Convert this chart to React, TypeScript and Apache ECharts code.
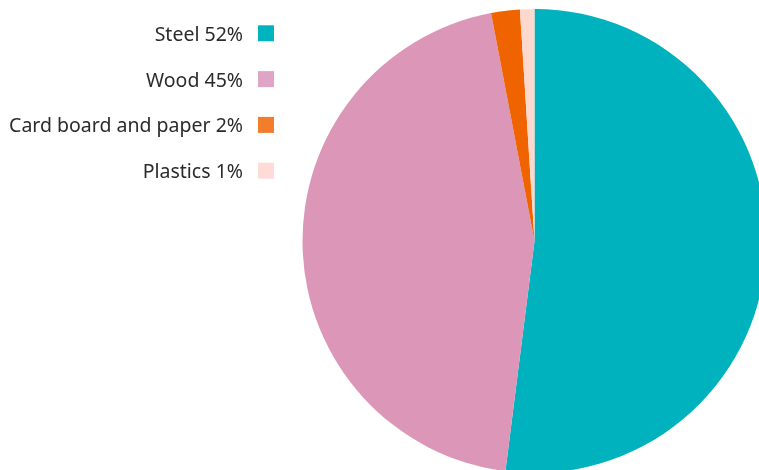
import React, { useEffect, useRef } from "react";
import * as echarts from "echarts";

const categories = ["Steel", "Wood", "Card board and paper", "Plastics"];
const values = [52, 45, 2, 1];
const sliceColors = ["#00b2bd", "#dc96b7", "#f06400", "#fdd8cf"];
const legendColors = ["#00b3be", "#dfa5c6", "#f27d2d", "#fcdcd4"];

export default function App() {
  const ref = useRef<HTMLDivElement>(null);
  useEffect(() => {
    if (!ref.current) return;
    const chart = echarts.init(ref.current, undefined, { renderer: "svg" });
    const names = categories.map((c, i) => `${c} ${values[i]}%`);
    chart.setOption({
      animation: false,
      legend: {
        orient: "vertical",
        align: "right",
        right: 759 - 274,
        top: 23.3,
        padding: 0,
        itemWidth: 16,
        itemHeight: 16,
        itemGap: 25.8,
        icon: "rect",
        selectedMode: false,
        textStyle: {
          fontFamily: "Noto Sans",
          fontSize: 19.5,
          color: "#2b2b2b",
          padding: [0, 10, 0, 0],
        },
        data: names.map((n, i) => ({ name: n, itemStyle: { color: legendColors[i] } })),
      },
      series: [
        {
          type: "pie",
          center: [534.5, 241],
          radius: 232,
          startAngle: 90,
          clockwise: true,
          label: { show: false },
          labelLine: { show: false },
          emphasis: { disabled: true },
          itemStyle: { borderWidth: 0 },
          data: names.map((n, i) => ({
            name: n,
            value: values[i],
            itemStyle: { color: sliceColors[i] },
          })),
        },
      ],
    });
    return () => chart.dispose();
  }, []);
  return (
    <div
      ref={ref}
      style={{ position: "fixed", left: 0, top: 0, width: 759, height: 470 }}
    />
  );
}
